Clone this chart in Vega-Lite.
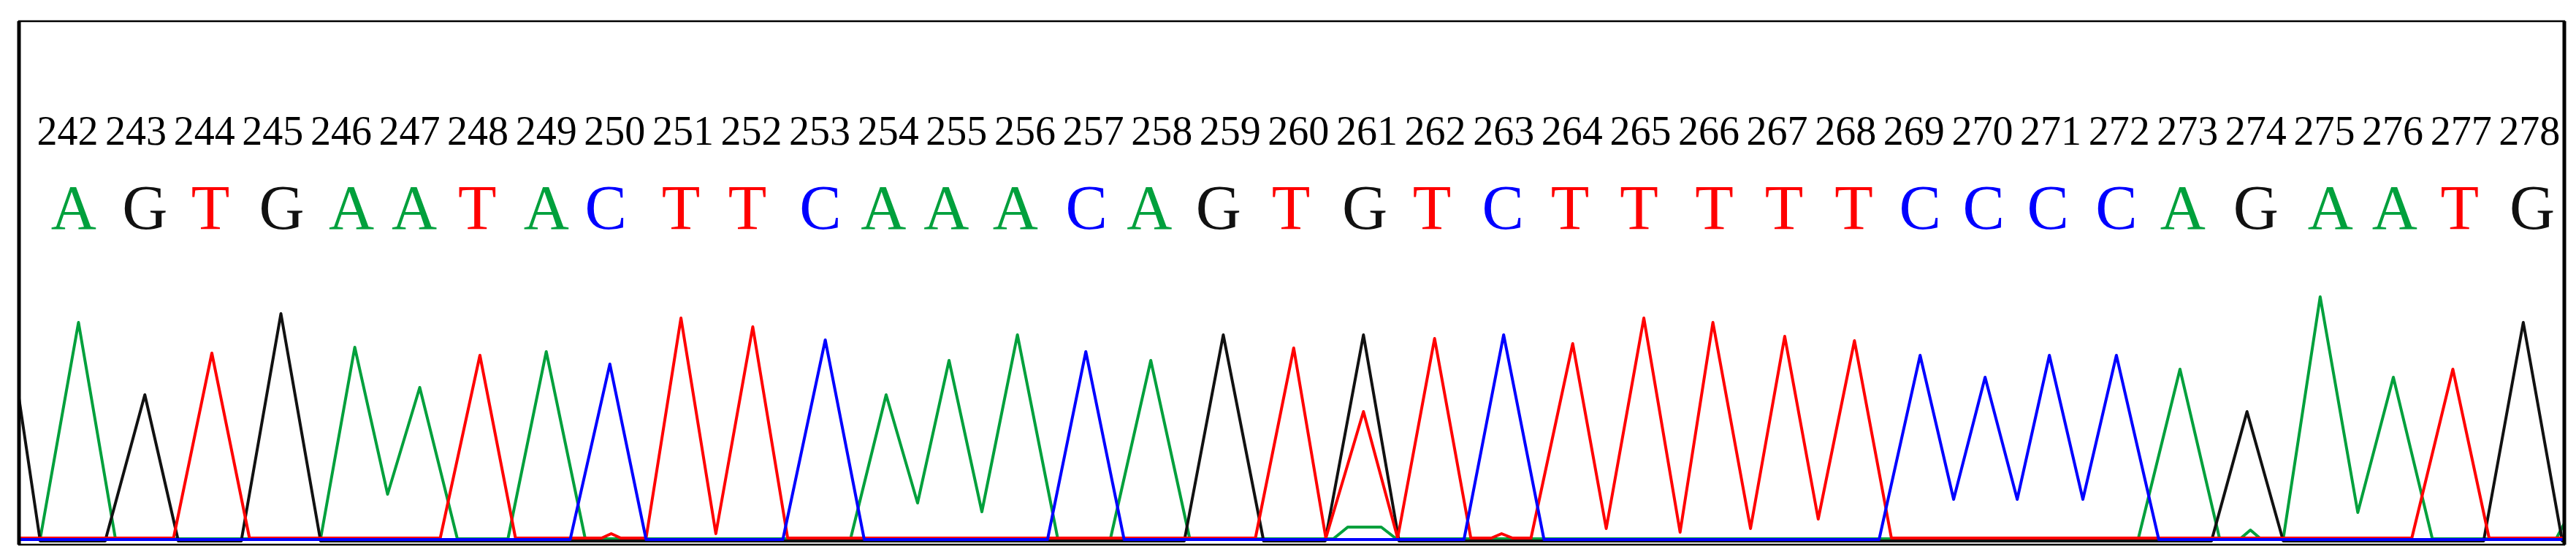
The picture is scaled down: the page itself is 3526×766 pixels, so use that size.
{
  "$schema": "https://vega.github.io/schema/vega-lite/v6.json",
  "width": 3484,
  "height": 716,
  "padding": {"left": 23, "right": 19, "top": 26, "bottom": 24},
  "background": "white",
  "config": {"view": {"stroke": "#000000", "strokeWidth": 2.5}},
  "datasets": {
    "trace": [
      {"base": "A", "pos": 241.29, "signal": 1}, {"base": "A", "pos": 241.60, "signal": 1}, {"base": "A", "pos": 242.16, "signal": 297}, {"base": "A", "pos": 242.70, "signal": 1},
      {"base": "A", "pos": 245.70, "signal": 1}, {"base": "A", "pos": 246.20, "signal": 263}, {"base": "A", "pos": 246.68, "signal": 62}, {"base": "A", "pos": 247.15, "signal": 208}, {"base": "A", "pos": 247.70, "signal": 1},
      {"base": "A", "pos": 248.44, "signal": 1}, {"base": "A", "pos": 249.00, "signal": 257}, {"base": "A", "pos": 249.57, "signal": 1},
      {"base": "A", "pos": 253.45, "signal": 1}, {"base": "A", "pos": 253.97, "signal": 198}, {"base": "A", "pos": 254.43, "signal": 50}, {"base": "A", "pos": 254.89, "signal": 245}, {"base": "A", "pos": 255.37, "signal": 38}, {"base": "A", "pos": 255.89, "signal": 280}, {"base": "A", "pos": 256.48, "signal": 1},
      {"base": "A", "pos": 257.25, "signal": 1}, {"base": "A", "pos": 257.84, "signal": 245}, {"base": "A", "pos": 258.41, "signal": 1},
      {"base": "A", "pos": 260.51, "signal": 1}, {"base": "A", "pos": 260.72, "signal": 17}, {"base": "A", "pos": 261.21, "signal": 17}, {"base": "A", "pos": 261.43, "signal": 1},
      {"base": "A", "pos": 272.28, "signal": 1}, {"base": "A", "pos": 272.89, "signal": 233}, {"base": "A", "pos": 273.47, "signal": 1},
      {"base": "A", "pos": 273.77, "signal": 1}, {"base": "A", "pos": 273.92, "signal": 13}, {"base": "A", "pos": 274.07, "signal": 1},
      {"base": "A", "pos": 274.40, "signal": 1}, {"base": "A", "pos": 274.94, "signal": 332}, {"base": "A", "pos": 275.49, "signal": 37}, {"base": "A", "pos": 276.01, "signal": 222}, {"base": "A", "pos": 276.58, "signal": 1},
      {"base": "A", "pos": 278.39, "signal": 1}, {"base": "A", "pos": 278.51, "signal": 22},

      {"base": "G", "pos": 241.29, "signal": 193}, {"base": "G", "pos": 241.60, "signal": -2}, {"base": "G", "pos": 242.55, "signal": -2}, {"base": "G", "pos": 243.13, "signal": 198}, {"base": "G", "pos": 243.62, "signal": -2},
      {"base": "G", "pos": 244.54, "signal": -2}, {"base": "G", "pos": 245.12, "signal": 309}, {"base": "G", "pos": 245.70, "signal": -2},
      {"base": "G", "pos": 258.33, "signal": -2}, {"base": "G", "pos": 258.90, "signal": 280}, {"base": "G", "pos": 259.49, "signal": -2},
      {"base": "G", "pos": 260.39, "signal": -2}, {"base": "G", "pos": 260.95, "signal": 280}, {"base": "G", "pos": 261.47, "signal": -2},
      {"base": "G", "pos": 273.35, "signal": -2}, {"base": "G", "pos": 273.87, "signal": 175}, {"base": "G", "pos": 274.40, "signal": -2},
      {"base": "G", "pos": 277.33, "signal": -2}, {"base": "G", "pos": 277.91, "signal": 297}, {"base": "G", "pos": 278.48, "signal": -2}, {"base": "G", "pos": 278.51, "signal": -2},

      {"base": "T", "pos": 241.29, "signal": 2}, {"base": "T", "pos": 243.55, "signal": 2}, {"base": "T", "pos": 244.11, "signal": 255}, {"base": "T", "pos": 244.66, "signal": 2},
      {"base": "T", "pos": 247.45, "signal": 2}, {"base": "T", "pos": 248.03, "signal": 252}, {"base": "T", "pos": 248.55, "signal": 2},
      {"base": "T", "pos": 249.81, "signal": 2}, {"base": "T", "pos": 249.95, "signal": 8}, {"base": "T", "pos": 250.09, "signal": 2},
      {"base": "T", "pos": 250.46, "signal": 2}, {"base": "T", "pos": 250.97, "signal": 303}, {"base": "T", "pos": 251.48, "signal": 8}, {"base": "T", "pos": 252.02, "signal": 291}, {"base": "T", "pos": 252.53, "signal": 2},
      {"base": "T", "pos": 259.37, "signal": 2}, {"base": "T", "pos": 259.93, "signal": 262}, {"base": "T", "pos": 260.40, "signal": 2}, {"base": "T", "pos": 260.95, "signal": 175}, {"base": "T", "pos": 261.45, "signal": 2}, {"base": "T", "pos": 261.99, "signal": 275}, {"base": "T", "pos": 262.52, "signal": 2},
      {"base": "T", "pos": 262.82, "signal": 2}, {"base": "T", "pos": 262.97, "signal": 8}, {"base": "T", "pos": 263.13, "signal": 2},
      {"base": "T", "pos": 263.40, "signal": 2}, {"base": "T", "pos": 264.01, "signal": 268}, {"base": "T", "pos": 264.50, "signal": 15}, {"base": "T", "pos": 265.05, "signal": 303}, {"base": "T", "pos": 265.58, "signal": 10}, {"base": "T", "pos": 266.06, "signal": 297}, {"base": "T", "pos": 266.61, "signal": 15}, {"base": "T", "pos": 267.11, "signal": 278}, {"base": "T", "pos": 267.60, "signal": 28}, {"base": "T", "pos": 268.13, "signal": 272}, {"base": "T", "pos": 268.67, "signal": 2},
      {"base": "T", "pos": 276.28, "signal": 2}, {"base": "T", "pos": 276.88, "signal": 233}, {"base": "T", "pos": 277.41, "signal": 2}, {"base": "T", "pos": 278.51, "signal": 2},

      {"base": "C", "pos": 241.29, "signal": 0}, {"base": "C", "pos": 249.35, "signal": 0}, {"base": "C", "pos": 249.93, "signal": 240}, {"base": "C", "pos": 250.46, "signal": 0},
      {"base": "C", "pos": 252.46, "signal": 0}, {"base": "C", "pos": 253.08, "signal": 273}, {"base": "C", "pos": 253.65, "signal": 0},
      {"base": "C", "pos": 256.33, "signal": 0}, {"base": "C", "pos": 256.89, "signal": 257}, {"base": "C", "pos": 257.45, "signal": 0},
      {"base": "C", "pos": 262.42, "signal": 0}, {"base": "C", "pos": 263.00, "signal": 280}, {"base": "C", "pos": 263.59, "signal": 0},
      {"base": "C", "pos": 268.49, "signal": 0}, {"base": "C", "pos": 269.09, "signal": 252}, {"base": "C", "pos": 269.58, "signal": 55}, {"base": "C", "pos": 270.04, "signal": 222}, {"base": "C", "pos": 270.51, "signal": 55}, {"base": "C", "pos": 270.98, "signal": 252}, {"base": "C", "pos": 271.47, "signal": 55}, {"base": "C", "pos": 271.96, "signal": 252}, {"base": "C", "pos": 272.58, "signal": 0},
      {"base": "C", "pos": 278.51, "signal": 0}
    ],
    "numbers": [
      {"pos": 242}, {"pos": 243}, {"pos": 244}, {"pos": 245}, {"pos": 246}, {"pos": 247}, {"pos": 248}, {"pos": 249}, {"pos": 250}, {"pos": 251},
      {"pos": 252}, {"pos": 253}, {"pos": 254}, {"pos": 255}, {"pos": 256}, {"pos": 257}, {"pos": 258}, {"pos": 259}, {"pos": 260}, {"pos": 261},
      {"pos": 262}, {"pos": 263}, {"pos": 264}, {"pos": 265}, {"pos": 266}, {"pos": 267}, {"pos": 268}, {"pos": 269}, {"pos": 270}, {"pos": 271},
      {"pos": 272}, {"pos": 273}, {"pos": 274}, {"pos": 275}, {"pos": 276}, {"pos": 277}, {"pos": 278}
    ],
    "calls": [
      {"base": "A", "pos": 242.09}, {"base": "G", "pos": 243.13}, {"base": "T", "pos": 244.09}, {"base": "G", "pos": 245.13}, {"base": "A", "pos": 246.15},
      {"base": "A", "pos": 247.07}, {"base": "T", "pos": 247.99}, {"base": "A", "pos": 249.00}, {"base": "C", "pos": 249.87}, {"base": "T", "pos": 250.97},
      {"base": "T", "pos": 251.94}, {"base": "C", "pos": 253.01}, {"base": "A", "pos": 253.93}, {"base": "A", "pos": 254.85}, {"base": "A", "pos": 255.86},
      {"base": "C", "pos": 256.90}, {"base": "A", "pos": 257.82}, {"base": "G", "pos": 258.83}, {"base": "T", "pos": 259.89}, {"base": "G", "pos": 260.97},
      {"base": "T", "pos": 261.95}, {"base": "C", "pos": 262.99}, {"base": "T", "pos": 263.97}, {"base": "T", "pos": 264.98}, {"base": "T", "pos": 266.08},
      {"base": "T", "pos": 267.10}, {"base": "T", "pos": 268.12}, {"base": "C", "pos": 269.09}, {"base": "C", "pos": 270.02}, {"base": "C", "pos": 270.96},
      {"base": "C", "pos": 271.96}, {"base": "A", "pos": 272.93}, {"base": "G", "pos": 274.00}, {"base": "A", "pos": 275.09}, {"base": "A", "pos": 276.03},
      {"base": "T", "pos": 276.98}, {"base": "G", "pos": 278.04}
    ],
    "edges": [{"pos": 241.29}, {"pos": 278.51}]
  },
  "layer": [
    {
      "data": {"name": "trace"},
      "mark": {"type": "line", "strokeWidth": 4, "clip": true, "strokeJoin": "round"},
      "encoding": {
        "x": {"field": "pos", "type": "quantitative", "scale": {"domain": [241.29, 278.51], "nice": false, "zero": false}, "axis": null},
        "y": {"field": "signal", "type": "quantitative", "scale": {"domain": [-7, 709], "nice": false, "zero": false}, "axis": null},
        "color": {"field": "base", "type": "nominal", "scale": {"domain": ["A", "C", "G", "T"], "range": ["#00a03c", "#0000ff", "#111111", "#ff0000"]}, "legend": null},
        "order": {"field": "pos", "type": "quantitative"}
      }
    },
    {
      "data": {"name": "numbers"},
      "mark": {"type": "text", "font": "Liberation Serif", "fontSize": 56, "align": "center", "baseline": "middle", "color": "#000000"},
      "encoding": {
        "x": {"field": "pos", "type": "quantitative"},
        "y": {"datum": 557},
        "text": {"field": "pos", "type": "quantitative", "format": "d"}
      }
    },
    {
      "data": {"name": "calls"},
      "mark": {"type": "text", "font": "Liberation Serif", "fontSize": 86, "align": "center", "baseline": "middle"},
      "encoding": {
        "x": {"field": "pos", "type": "quantitative"},
        "y": {"datum": 451},
        "text": {"field": "base", "type": "nominal"},
        "color": {"field": "base", "type": "nominal", "scale": {"domain": ["A", "C", "G", "T"], "range": ["#00a03c", "#0000ff", "#111111", "#ff0000"]}, "legend": null}
      }
    },
    {
      "data": {"name": "edges"},
      "mark": {"type": "rule", "strokeWidth": 5, "color": "#000000"},
      "encoding": {
        "x": {"field": "pos", "type": "quantitative"}
      }
    }
  ]
}
